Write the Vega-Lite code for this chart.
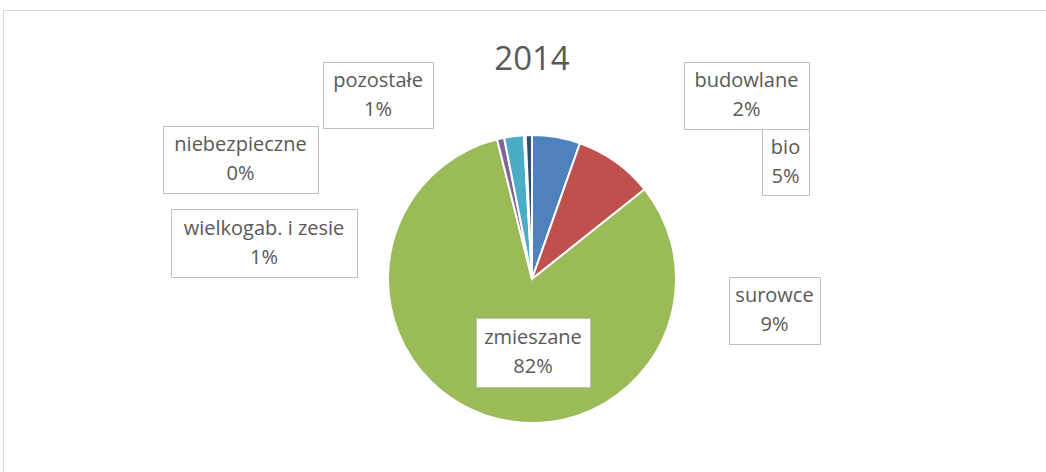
{
  "$schema": "https://vega.github.io/schema/vega-lite/v6.json",
  "width": 864,
  "height": 358,
  "autosize": {"type": "none"},
  "padding": {"left": 100, "top": 100, "right": 82, "bottom": 14},
  "background": "white",
  "config": {"view": {"stroke": null}},
  "title": {
    "text": "2014",
    "frame": "group",
    "anchor": "middle",
    "orient": "top",
    "offset": -94,
    "baseline": "alphabetic",
    "font": "Liberation Sans Narrow, Open Sans",
    "fontSize": 33,
    "fontWeight": "normal",
    "color": "#595959"
  },
  "data": {
    "values": [
      {"category": "bio", "value": 5.4, "order": 1},
      {"category": "surowce", "value": 8.9, "order": 2},
      {"category": "zmieszane", "value": 81.8, "order": 3},
      {"category": "wielkogab. i zesie", "value": 0.8, "order": 4},
      {"category": "budowlane", "value": 2.2, "order": 5},
      {"category": "niebezpieczne", "value": 0.2, "order": 6},
      {"category": "pozostałe", "value": 0.7, "order": 7}
    ]
  },
  "transform": [
    {"calculate": "[datum.category, format(datum.value / 100, '.0%')]", "as": "label"}
  ],
  "layer": [
    {
      "data": {"values": [{"frame": "chart area"}]},
      "mark": {
        "type": "point",
        "filled": false,
        "shape": "M-528.5,-268.5H520V205H-528.5Z",
        "size": 4,
        "stroke": "#D9D9D9",
        "strokeWidth": 1,
        "opacity": 1
      },
      "encoding": {}
    },
    {
      "mark": {"type": "arc", "outerRadius": 144, "stroke": "white", "strokeWidth": 2},
      "encoding": {
        "theta": {"field": "value", "type": "quantitative", "stack": true},
        "order": {"field": "order", "type": "quantitative"},
        "color": {
          "field": "category",
          "type": "nominal",
          "scale": {
            "domain": ["bio", "surowce", "zmieszane", "wielkogab. i zesie", "budowlane", "niebezpieczne", "pozostałe"],
            "range": ["#4F81BD", "#C0504D", "#9BBB59", "#8064A2", "#4BACC6", "#F79646", "#2C4D75"]
          },
          "legend": null
        }
      }
    },
    {
      "mark": {
        "type": "point",
        "filled": true,
        "fill": "white",
        "stroke": "#BFBFBF",
        "strokeWidth": 1,
        "size": 4,
        "opacity": 1
      },
      "encoding": {
        "shape": {
          "field": "category",
          "type": "nominal",
          "scale": {
            "domain": ["bio", "surowce", "zmieszane", "wielkogab. i zesie", "budowlane", "niebezpieczne", "pozostałe"],
            "range": [
              "M230.5,-149.5H277.5V-83.5H230.5Z",
              "M197.5,-1.5H288.5V65.5H197.5Z",
              "M-55.5,39.5H58.5V108.5H-55.5Z",
              "M-360.5,-69.5H-174.5V-1.5H-360.5Z",
              "M152.5,-216.5H277.5V-149.5H152.5Z",
              "M-368.5,-152.5H-213.5V-85.5H-368.5Z",
              "M-208.5,-216.5H-98.5V-150.5H-208.5Z"
            ]
          },
          "legend": null
        }
      }
    },
    {
      "transform": [{"filter": "datum.category == 'zmieszane'"}],
      "mark": {"type": "text", "dx": 1, "dy": 59, "font": "Open Sans", "fontSize": 20, "lineHeight": 29, "color": "#595959", "align": "center", "baseline": "middle"},
      "encoding": {"text": {"field": "label"}}
    },
    {
      "transform": [{"filter": "datum.category == 'surowce'"}],
      "mark": {"type": "text", "dx": 242.5, "dy": 17, "font": "Open Sans", "fontSize": 20, "lineHeight": 29, "color": "#595959", "align": "center", "baseline": "middle"},
      "encoding": {"text": {"field": "label"}}
    },
    {
      "transform": [{"filter": "datum.category == 'bio'"}],
      "mark": {"type": "text", "dx": 253.5, "dy": -131.5, "font": "Open Sans", "fontSize": 20, "lineHeight": 29, "color": "#595959", "align": "center", "baseline": "middle"},
      "encoding": {"text": {"field": "label"}}
    },
    {
      "transform": [{"filter": "datum.category == 'budowlane'"}],
      "mark": {"type": "text", "dx": 214.5, "dy": -198, "font": "Open Sans", "fontSize": 20, "lineHeight": 29, "color": "#595959", "align": "center", "baseline": "middle"},
      "encoding": {"text": {"field": "label"}}
    },
    {
      "transform": [{"filter": "datum.category == 'pozostałe'"}],
      "mark": {"type": "text", "dx": -154, "dy": -198.5, "font": "Open Sans", "fontSize": 20, "lineHeight": 29, "color": "#595959", "align": "center", "baseline": "middle"},
      "encoding": {"text": {"field": "label"}}
    },
    {
      "transform": [{"filter": "datum.category == 'niebezpieczne'"}],
      "mark": {"type": "text", "dx": -291.5, "dy": -134, "font": "Open Sans", "fontSize": 20, "lineHeight": 29, "color": "#595959", "align": "center", "baseline": "middle"},
      "encoding": {"text": {"field": "label"}}
    },
    {
      "transform": [{"filter": "datum.category == 'wielkogab. i zesie'"}],
      "mark": {"type": "text", "dx": -268, "dy": -50.5, "font": "Open Sans", "fontSize": 20, "lineHeight": 29, "color": "#595959", "align": "center", "baseline": "middle"},
      "encoding": {"text": {"field": "label"}}
    }
  ]
}
